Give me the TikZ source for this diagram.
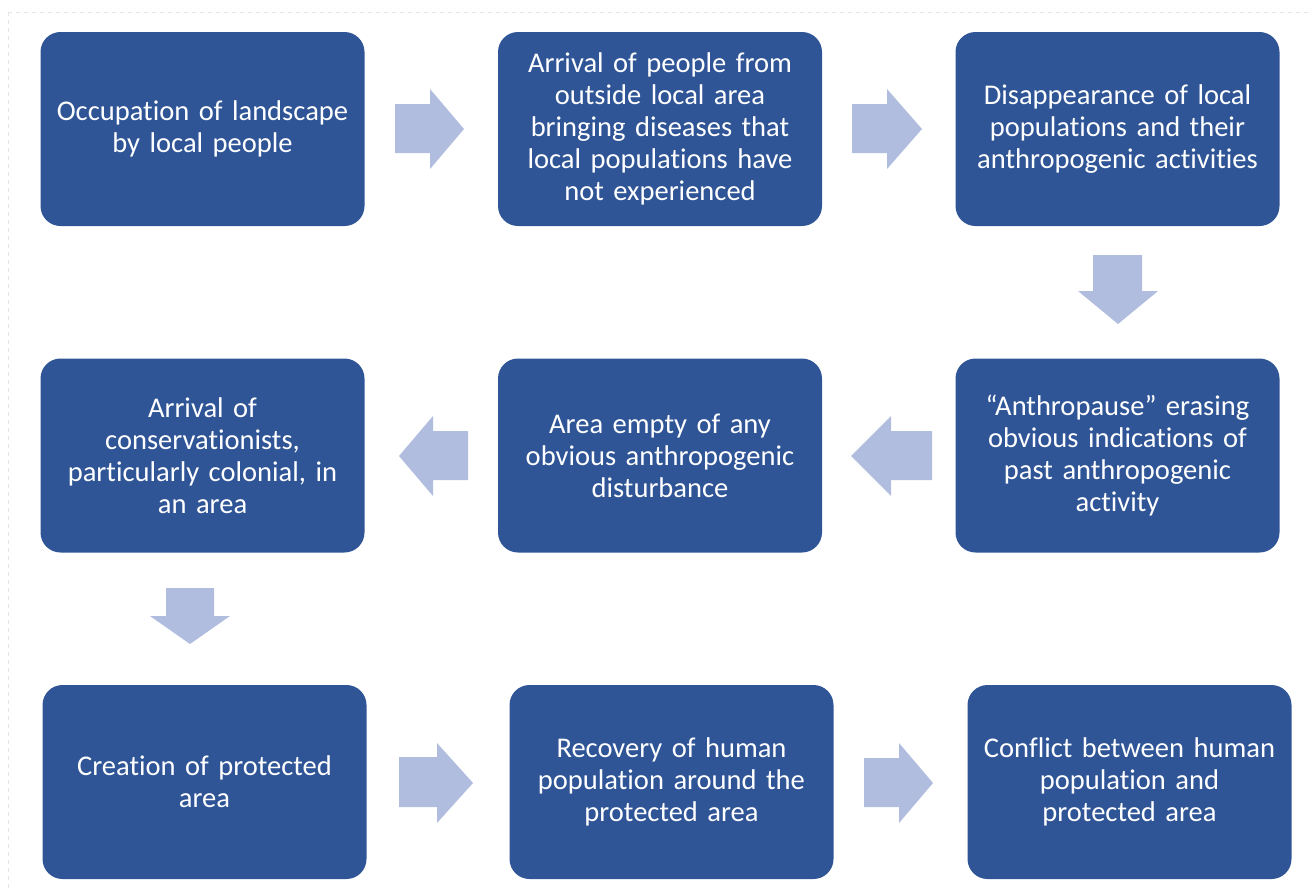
\documentclass[tikz,border=0pt]{standalone}
\usepackage{fontspec}
\setmainfont{Carlito}[Ligatures=NoCommon]
\usepackage{xcolor}
\definecolor{boxblue}{RGB}{47,85,151}
\definecolor{arrowblue}{RGB}{176,189,223}
\tikzset{
  flowbox/.style={rectangle, rounded corners=15pt, fill=boxblue, text=white,
    minimum width=243pt, minimum height=145.5pt, inner sep=0pt,
    text width=236pt, align=center, font=\fontsize{21.4}{24}\selectfont},
  blockarrow/.style={fill=arrowblue}
}
\begin{document}
\begin{tikzpicture}[x=0.75pt,y=-0.75pt] % 1 unit = 1 px of the reference
        \useasboundingbox (0,0) rectangle (1309,890);

        % Frame
        \draw[dashed, black!10] (8,12) -- (1309,12);
        \draw[dashed, black!10] (8,12) -- (8,890);

        % Row 1
        \node[flowbox] (occupation) at (202.5,129) {Occupation of landscape\\by local people};
        \node[flowbox] (arrival) at (660,129) {Arrival of people from\\outside local area\\bringing diseases that\\local populations have\\not experienced};
        \node[flowbox] (disappearance) at (1117.5,129) {Disappearance of local\\populations and their\\anthropogenic activities};

        % Row 2
        \node[flowbox] (conservationists) at (202.5,455.5) {Arrival of\\conservationists,\\particularly colonial, in\\an area};
        \node[flowbox] (empty) at (660,455.5) {Area empty of any\\obvious anthropogenic\\disturbance};
        \node[flowbox] (anthropause) at (1117.5,455.5) {``Anthropause'' erasing\\obvious indications of\\past anthropogenic\\activity};

        % Row 3
        \node[flowbox] (creation) at (204.5,782) {Creation of protected\\area};
        \node[flowbox] (recovery) at (671.5,782) {Recovery of human\\population around the\\protected area};
        \node[flowbox] (conflict) at (1129.5,782) {Conflict between human\\population and\\protected area};

        % Block arrows, row 1
        \fill[blockarrow] (395,104) -- (430,104) -- (430,89) -- (464,129) -- (430,169) -- (430,153) -- (395,153) -- cycle;
        \fill[blockarrow] (852,104) -- (887,104) -- (887,89) -- (922,129) -- (887,169) -- (887,153) -- (852,153) -- cycle;

        % Down to row 2
        \fill[blockarrow] (1093,255) -- (1142,255) -- (1142,291) -- (1158,291) -- (1118,324) -- (1078,291) -- (1093,291) -- cycle;

        % Block arrows, row 2
        \fill[blockarrow] (932,431) -- (891,431) -- (891,416) -- (851,456) -- (891,496) -- (891,480) -- (932,480) -- cycle;
        \fill[blockarrow] (468,431) -- (433,431) -- (433,416) -- (399,456) -- (433,496) -- (433,480) -- (468,480) -- cycle;

        % Down to row 3
        \fill[blockarrow] (166,588) -- (214,588) -- (214,616) -- (230,616) -- (190,644) -- (150,616) -- (166,616) -- cycle;

        % Block arrows, row 3
        \fill[blockarrow] (399,757) -- (437,757) -- (437,743) -- (473,783) -- (437,823) -- (437,807) -- (399,807) -- cycle;
        \fill[blockarrow] (864,758) -- (899,758) -- (899,743) -- (933,783) -- (899,823) -- (899,807) -- (864,807) -- cycle;
\end{tikzpicture}
\end{document}
